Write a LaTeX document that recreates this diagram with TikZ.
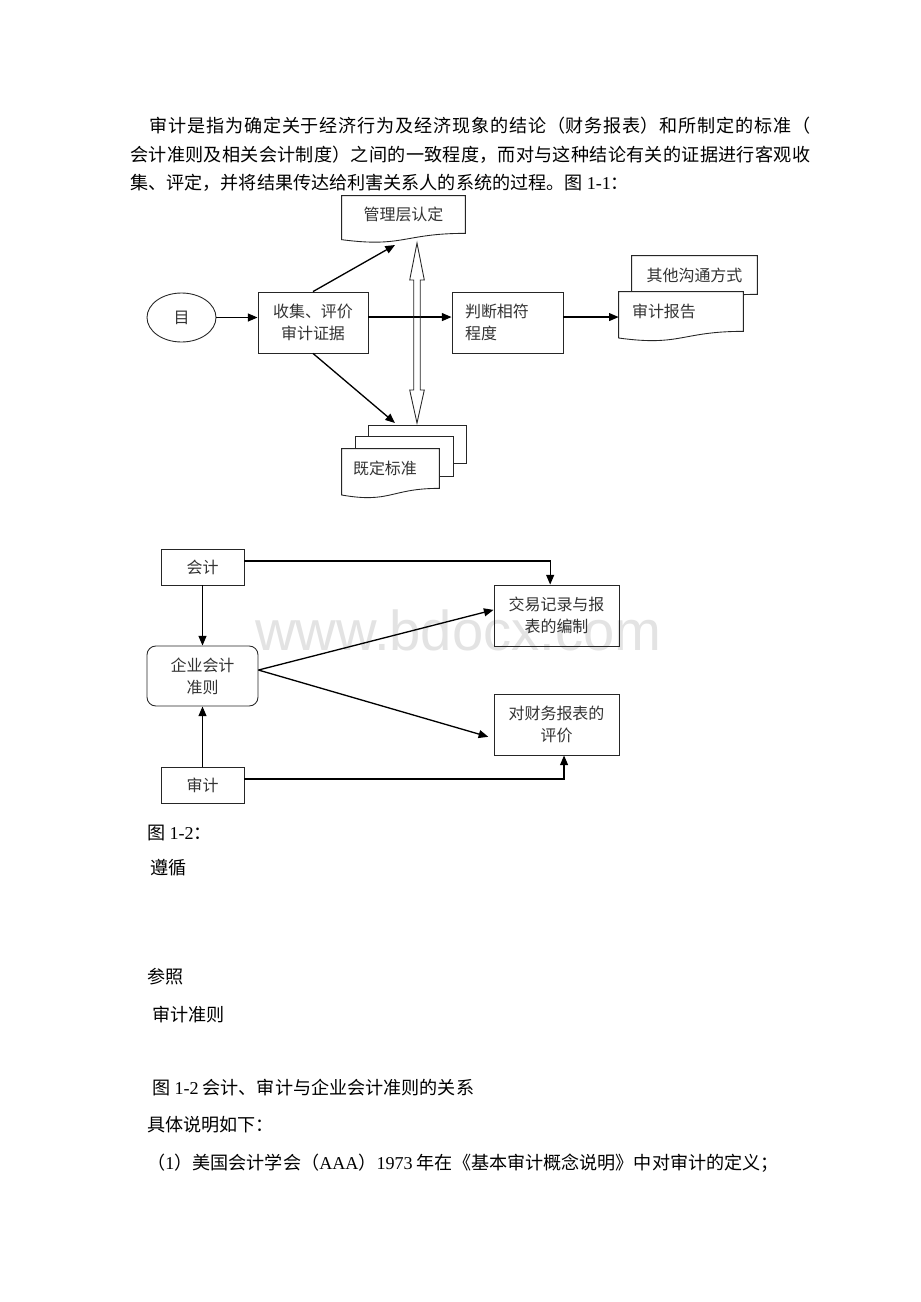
\documentclass[tikz,border=0pt]{standalone}
\usepackage{fontspec}
\setmainfont{Liberation Serif}
\newfontfamily\cjk{Noto Sans CJK SC}
\newfontfamily\wmfont{Liberation Sans}
\usetikzlibrary{arrows.meta,calc,shapes.geometric}
\pgfdeclarelayer{bg}
\pgfsetlayers{bg,main}
\XeTeXlinebreaklocale "zh"
\XeTeXlinebreakskip=0pt plus 1.5pt

% outline of a document shape round node #1 (wavy lower edge)
\newcommand\docoutline[1]{%
  \filldraw[docline] (#1.north west) -- (#1.north east) -- (#1.south east)
    .. controls (#1.south) and ($(#1.south)!-0.384!(#1.north)$)
    .. ($(#1.south west)!-0.1675!(#1.north west)$) -- cycle;}

\begin{document}
\begin{tikzpicture}[x=0.02cm,y=-0.02cm,>={Triangle[length=5.5pt,width=4.5pt]}]
    \tikzstyle{para} = [font=\cjk\fontsize{10.3}{16.2}\selectfont,inner sep=0pt]
    \tikzstyle{txt} = [font=\cjk\fontsize{9.1}{12.5}\selectfont,text=black!80,
                       inner sep=0pt,align=center]
    \tikzstyle{box} = [txt,draw=black!85,line width=.5pt,rectangle]
    \tikzstyle{docbox} = [txt,rectangle]
    \tikzstyle{docline} = [draw=black!85,fill=white,line width=.5pt]
    \tikzstyle{flow} = [->,line width=.75pt]

    \begin{pgfonlayer}{bg}
    \fill[white] (0,0) rectangle (920,1302);
    \node[anchor=base west,font=\wmfont\fontsize{32}{32}\selectfont,
          text=black!11,inner sep=0pt] (mark) at (255,650) {www.bdocx.com};
    \end{pgfonlayer}
    \useasboundingbox (0,0) rectangle (920,1302);

    \node[para,anchor=north west,text width=13.6cm,align=justify] (intro) at (130,117)
      {\hspace*{0.38cm}审计是指为确定关于经济行为及经济现象的结论（财务报表）和所制定的标准（\linebreak
       会计准则及相关会计制度）之间的一致程度，而对与这种结论有关的证据进行客观收\linebreak
       集、评定，并将结果传达给利害关系人的系统的过程。图 {\rmfamily 1-1}：};

    % figure 1-1
    \node[txt,ellipse,draw=black!85,line width=.5pt,minimum width=1.38cm,minimum height=.98cm]
        (goal) at (181.5,317.5) {目};
    \node[box,minimum width=2.2cm,minimum height=1.22cm] (collect) at (313,322.5)
        {收集、评价\\审计证据};
    \node[box,minimum height=1.22cm,text width=1.7cm,inner xsep=.26cm,align=left]
        (judge) at (507.5,322.5) {判断相符\\程度};
    \node[docbox,minimum width=2.46cm,minimum height=.74cm] (mgmt) at (403.5,214.5)
        {管理层认定};
    \node[docbox,minimum width=2.5cm,minimum height=.76cm] (other) at (694.5,275)
        {其他沟通方式};
    \node[docbox,minimum height=.78cm,text width=1.96cm,inner xsep=.26cm,align=left]
        (report) at (681,311.5) {审计报告};
    \node[docbox,minimum width=1.94cm,minimum height=.74cm] (std3) at (417.5,444.5) {};
    \node[docbox,minimum width=1.94cm,minimum height=.78cm] (std2) at (404.5,456.5) {};
    \node[docbox,minimum height=.78cm,text width=1.5cm,inner xsep=.22cm,align=left]
        (std) at (390.5,468.5) {既定标准};
    \coordinate (mgmtin) at (395,245);
    \coordinate (stdin) at (395,423);

    \begin{pgfonlayer}{bg}
    \docoutline{mgmt}
    \docoutline{other}
    \docoutline{report}
    \filldraw[docline] (std3.north west) rectangle (std3.south east);
    \filldraw[docline] (std2.north west) rectangle (std2.south east);
    \docoutline{std}
    \end{pgfonlayer}

    \draw[flow] (goal.east) -- (goal.east -| collect.west);
    \draw[flow] ([yshift=3.1pt]collect.east) -- ([yshift=3.1pt]judge.west);
    \draw[flow] ([yshift=3.1pt]judge.east) -- ([yshift=3.1pt]judge.east -| report.west);
    \draw[flow] (collect.north) -- (mgmtin);
    \draw[flow] (collect.south) -- (stdin);
    % hollow double arrow
    \draw[line width=.5pt,draw=black!85] (417,243) -- (424.3,280) -- (420.3,280) -- (420.3,390)
        -- (424.3,390) -- (417,423) -- (409.7,390) -- (413.7,390) -- (413.7,280)
        -- (409.7,280) -- cycle;

    % figure 1-2
    \node[box,minimum width=1.66cm,minimum height=.72cm] (acct) at (202.5,567) {会计};
    \node[box,minimum width=1.66cm,minimum height=.72cm] (audit) at (202.5,785) {审计};
    \node[box,rounded corners=5pt,minimum width=2.22cm,minimum height=1.2cm]
        (gaap) at (202.5,676) {企业会计\\准则};
    \node[box,minimum width=2.5cm,minimum height=1.22cm] (prep) at (556.5,615.5)
        {交易记录与报\\表的编制};
    \node[box,minimum width=2.5cm,minimum height=1.22cm] (eval) at (556.5,724.5)
        {对财务报表的\\评价};

    \draw[flow] (acct) -- (gaap);
    \draw[flow] (audit) -- (gaap);
    \draw[flow] ([yshift=3.4pt]acct.east) -| ([xshift=-3.6pt]prep.north);
    \draw[flow] ([yshift=3.4pt]audit.east) -| ([xshift=4.3pt]eval.south);
    \draw[flow] ([yshift=3.4pt]gaap.east) -- ([yshift=3.2pt]prep.west);
    \draw[flow] ([yshift=3.4pt]gaap.east) -- ([xshift=-3pt,yshift=-7pt]eval.west);

    \path[para,anchor=west]
        (147,833) node (fig2) {图 {\rmfamily 1-2}：}
        (150,868) node (follow) {遵循}
        (147,977) node (refer) {参照}
        (152,1015) node (stds) {审计准则}
        (152,1088) node (cap2) {图 {\rmfamily 1-2} 会计、审计与企业会计准则的关系}
        (147,1125) node (detail) {具体说明如下：}
        (147,1163) node (item1) {（{\rmfamily 1}）美国会计学会（{\rmfamily AAA}）{\rmfamily 1973} 年在《基本审计概念说明》中对审计的定义；};
\end{tikzpicture}
\end{document}
